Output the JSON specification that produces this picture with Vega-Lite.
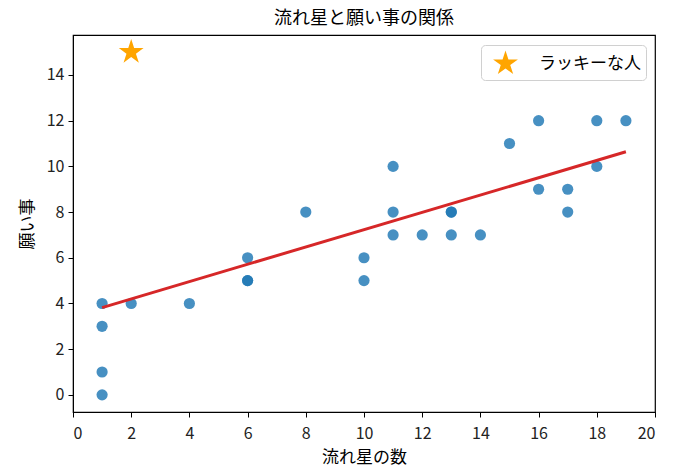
{
  "$schema": "https://vega.github.io/schema/vega-lite/v6.json",
  "autosize": {"type": "none"},
  "width": 582,
  "height": 377,
  "padding": {"left": 73, "top": 35, "right": 19, "bottom": 59},
  "title": {"text": "流れ星と願い事の関係", "fontSize": 18, "fontWeight": "normal", "color": "#000", "offset": 7},
  "config": {
    "font": "Noto Sans CJK JP",
    "view": {"stroke": "#000", "strokeWidth": 1.2},
    "axis": {
      "grid": false, "domainColor": "#000", "tickColor": "#000", "tickSize": 5,
      "labelFontSize": 16, "labelColor": "#222",
      "titleFontSize": 17, "titleFontWeight": "normal", "titleColor": "#000"
    }
  },
  "layer": [
    {
      "data": {"values": [
      {"x": 1, "y": 0}, {"x": 1, "y": 1}, {"x": 1, "y": 3}, {"x": 1, "y": 4},
      {"x": 2, "y": 4}, {"x": 4, "y": 4}, {"x": 6, "y": 5}, {"x": 6, "y": 5},
      {"x": 6, "y": 6}, {"x": 8, "y": 8}, {"x": 10, "y": 5}, {"x": 10, "y": 6},
      {"x": 11, "y": 7}, {"x": 11, "y": 8}, {"x": 11, "y": 10}, {"x": 12, "y": 7},
      {"x": 13, "y": 7}, {"x": 13, "y": 8}, {"x": 13, "y": 8}, {"x": 14, "y": 7},
      {"x": 15, "y": 11}, {"x": 16, "y": 9}, {"x": 16, "y": 12}, {"x": 17, "y": 8},
      {"x": 17, "y": 9}, {"x": 18, "y": 10}, {"x": 18, "y": 12}, {"x": 19, "y": 12}
      ]},
      "mark": {"type": "circle", "size": 125, "color": "#1f77b4", "opacity": 0.82},
      "encoding": {
        "x": {"field": "x", "type": "quantitative", "scale": {"domain": [0, 20], "nice": false}, "axis": {"title": "流れ星の数", "values": [0,2,4,6,8,10,12,14,16,18,20], "labelPadding": 8, "titlePadding": 8}},
        "y": {"field": "y", "type": "quantitative", "scale": {"domain": [-0.75, 15.75], "nice": false, "zero": false}, "axis": {"title": "願い事", "values": [0,2,4,6,8,10,12,14], "labelPadding": 4, "titlePadding": 10}}
      }
    },
    {
      "data": {"values": [{"x": 1, "y": 3.82}, {"x": 19, "y": 10.64}]},
      "mark": {"type": "line", "color": "#d62728", "strokeWidth": 3},
      "encoding": {
        "x": {"field": "x", "type": "quantitative"},
        "y": {"field": "y", "type": "quantitative"}
      }
    },
    {
      "data": {"values": [{"x": 2, "y": 15, "label": "ラッキーな人"}]},
      "mark": {"type": "point", "shape": "M0,-1L0.2245,-0.309L0.951,-0.309L0.363,0.118L0.588,0.809L0,0.382L-0.588,0.809L-0.363,0.118L-0.951,-0.309L-0.2245,-0.309Z", "filled": true, "size": 680, "opacity": 1},
      "encoding": {
        "x": {"field": "x", "type": "quantitative"},
        "y": {"field": "y", "type": "quantitative"},
        "color": {
          "field": "label", "type": "nominal",
          "scale": {"range": ["#ffa500"]},
          "legend": {
            "title": null, "orient": "top-right", "offset": 9.5,
            "symbolType": "M0,-1L0.2245,-0.309L0.951,-0.309L0.363,0.118L0.588,0.809L0,0.382L-0.588,0.809L-0.363,0.118L-0.951,-0.309L-0.2245,-0.309Z",
            "symbolSize": 680, "symbolFillColor": "#ffa500", "symbolStrokeWidth": 0, "symbolOpacity": 1, "symbolOffset": 6,
            "labelFontSize": 17, "labelColor": "#000", "labelOffset": 20,
            "strokeColor": "#d0d0d0", "fillColor": "#fff", "cornerRadius": 4, "padding": 5
          }
        }
      }
    }
  ]
}
